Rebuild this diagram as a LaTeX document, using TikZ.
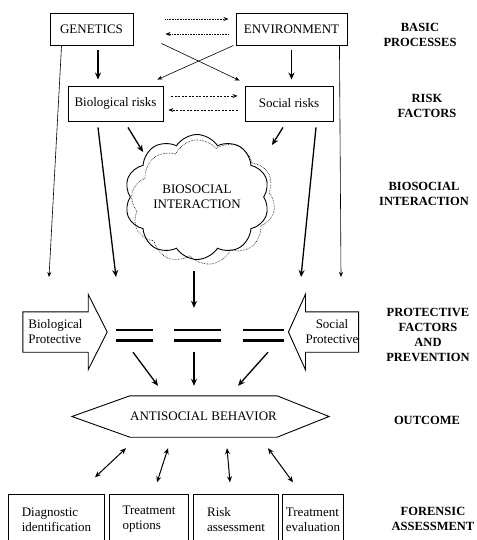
\documentclass[tikz,border=0pt]{standalone}
\usepackage{fontspec}
\setmainfont{Liberation Serif}
\usetikzlibrary{arrows.meta,shapes.symbols}

\begin{document}
\begin{tikzpicture}[x=1pt,y=-1pt,font=\fontsize{13}{15}\selectfont,
		box/.style={draw,line width=0.9pt,inner sep=0pt},
		thk/.style={line width=1.3pt,-{Stealth[length=7pt,width=6pt]}},
		thn/.style={line width=0.6pt,-{Stealth[length=5pt,width=4pt]}},
		dotarr/.style={line width=0.6pt,densely dotted,-{Stealth[length=5pt,width=4pt]}},
		dasharr/.style={line width=0.6pt,dash pattern=on 2pt off 1.5pt,-{Stealth[length=5pt,width=4pt]}},
		dbl/.style={line width=1pt,{Stealth[length=6pt,width=5pt]}-{Stealth[length=6pt,width=5pt]}},
		lvl/.style={font=\fontsize{12.5}{15}\selectfont\bfseries,align=center},
		puff/.style={cloud,cloud puffs=10,cloud puff arc=115,cloud ignores aspect,minimum width=145pt,minimum height=125pt},
		eqbar/.style={minimum height=10pt,inner sep=0pt}]
		\useasboundingbox (0,0) rectangle (476,540);
		% basic processes and risk factors
		\node [box,minimum width=83pt,minimum height=32pt] (gen) at (91.5,29) {GENETICS};
		\node [box,minimum width=111pt,minimum height=32pt] (env) at (291.5,29) {ENVIRONMENT};
		\node [box,minimum width=95pt,minimum height=35pt] (bio) at (115.5,103.5) {Biological risks};
		\node [box,minimum width=88pt,minimum height=35pt] (soc) at (289,103.5) {Social risks};
		\draw [dotarr,shorten <=32pt,shorten >=7pt] ([yshift=10]gen.east) -- ([yshift=10]env.west);
		\draw [dotarr,shorten <=7pt,shorten >=32pt] ([yshift=-5]env.west) -- ([yshift=-5]gen.east);
		\draw [dasharr,shorten <=8pt,shorten >=7pt] ([yshift=7.5]bio.east) -- ([yshift=7.5]soc.west);
		\draw [dasharr,shorten <=7pt,shorten >=5pt] ([yshift=-6.5]soc.west) -- ([yshift=-6.5]bio.east);
		\draw [thk,shorten <=5pt,shorten >=6pt] ([xshift=6.5]gen.south) -- ([xshift=6.5]gen.south |- bio.north);
		\draw [thk,shorten <=5pt,shorten >=6pt] (env.south) -- (env.south |- soc.north);
		\draw [thn] ([xshift=28,yshift=2]gen.south east) -- ([xshift=-5,yshift=5]soc.north west);
		\draw [thn] ([xshift=-2]env.south west) -- ([xshift=-6,yshift=6]bio.north east);
		% cloud
		\node [puff,draw,densely dotted,line width=0.6pt,rotate=8] (shade) at (203,202) {};
		\node [puff,draw,line width=0.9pt,align=center] (cloud) at (197,197) {BIOSOCIAL\\INTERACTION};
		\draw [thk] ([xshift=12.5,yshift=-6]bio.south) -- ([xshift=-54,yshift=45]cloud.center);
		\draw [thk] ([xshift=-6,yshift=-6]soc.south) -- ([xshift=75,yshift=52]cloud.center);
		% long arrows down to the protective level
		\coordinate (gend) at (49,277);
		\coordinate (bend) at (116,277);
		\coordinate (send) at (301,277);
		\coordinate (eend) at (341,277);
		\draw [thn] ([xshift=12]gen.south west) -- (gend);
		\draw [thn] ([xshift=-8]env.south east) -- (eend);
		\draw [thk] ([xshift=-17.5,yshift=-6]bio.south) -- (bend);
		\draw [thk] ([xshift=27,yshift=-6]soc.south) -- (send);
		% protective factors
		\node [align=left,minimum width=65pt,minimum height=40pt,inner sep=0pt] (bprot) at (55.5,332) {Biological\\Protective};
		\draw [line width=0.9pt] (bprot.south west) -- (bprot.north west) -- (bprot.north east) -- ([yshift=17.5]bprot.north east)
			-- ([xshift=19]bprot.east) -- ([yshift=-17.5]bprot.south east) -- (bprot.south east) -- cycle;
		\node [align=center,minimum width=52pt,minimum height=40pt,inner sep=0pt] (sprot) at (332,332) {Social\\Protective};
		\draw [line width=0.9pt] (sprot.south east) -- (sprot.north east) -- (sprot.north west) -- ([yshift=17.5]sprot.north west)
			-- ([xshift=-17]sprot.west) -- ([yshift=-17.5]sprot.south west) -- (sprot.south west) -- cycle;
		\foreach \n/\x/\w in {eqa/134.5/37,eqb/197.5/47,eqc/263.5/41}
			\node [eqbar,minimum width=\w pt] (\n) at (\x,335) {};
		\foreach \n in {eqa,eqb,eqc}
			\draw [line width=2.6pt] (\n.north west) -- (\n.north east) (\n.south west) -- (\n.south east);
		\draw [thk] ([xshift=-3,yshift=-11]cloud.south) -- ([xshift=-3.5,yshift=22]eqb.north);
		% outcome
		\node [minimum width=131pt,minimum height=41pt,inner sep=0pt] (asb) at (203.5,416.5) {ANTISOCIAL BEHAVIOR};
		\draw [line width=0.9pt] (asb.north west) -- (asb.north east) -- ([xshift=52]asb.east) -- (asb.south east)
			-- (asb.south west) -- ([xshift=-58]asb.west) -- cycle;
		\draw [thk] ([xshift=-1.5,yshift=-12]eqa.south) -- ([xshift=-45.5,yshift=10]asb.north);
		\draw [thk] ([xshift=-3.5,yshift=-12]eqb.south) -- ([xshift=-9.5,yshift=10]asb.north);
		\draw [thk] ([xshift=4.5,yshift=-12]eqc.south) -- ([xshift=34.5,yshift=10]asb.north);
		% forensic assessment
		\foreach \n/\x/\w/\t in {da/56.5/95/{Diagnostic\\identification},db/149/78/{Treatment\\options},
				dc/236/84/{Risk\\assessment},dd/313/60/{Treatment\\evaluation}} {
			\node [align=left,minimum width=\w pt,minimum height=50pt,inner sep=0pt] (\n) at (\x,519.5) {\t};
			\draw [line width=0.9pt] ([yshift=4.5]\n.south west) -- (\n.north west) -- (\n.north east) -- ([yshift=4.5]\n.south east);
		}
		\draw [dbl] ([xshift=-77.5,yshift=-11]asb.south) -- ([xshift=38.5,yshift=17]da.north);
		\draw [dbl] ([xshift=-35.5,yshift=-11]asb.south) -- ([xshift=8,yshift=12]db.north);
		\draw [dbl] ([xshift=23.5,yshift=-11]asb.south) -- ([xshift=-6,yshift=12]dc.north);
		\draw [dbl] ([xshift=64.5,yshift=-11]asb.south) -- ([xshift=-20,yshift=12]dd.north);
		% level labels
		\node [lvl] (lbas) at (420,35) {BASIC\\PROCESSES};
		\node [lvl] (lrsk) at (427,106) {RISK\\FACTORS};
		\node [lvl] (lbsi) at (424,194) {BIOSOCIAL\\INTERACTION};
		\node [lvl] (lpro) at (428,335) {PROTECTIVE\\FACTORS\\AND\\PREVENTION};
		\node [lvl] (lout) at (427,420) {OUTCOME};
		\node [lvl] (lfor) at (433,519) {FORENSIC\\ASSESSMENT};
	\end{tikzpicture}
\end{document}
